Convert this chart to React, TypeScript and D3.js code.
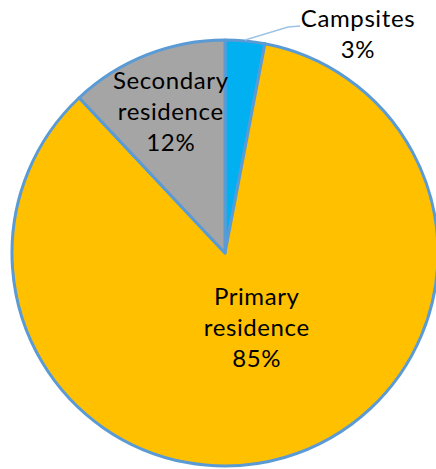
import React from "react";
import * as d3 from "d3";

const categories = ["Campsites", "Primary residence", "Secondary residence"];
const values = [3, 85, 12];
const percentLabels = ["3%", "85%", "12%"];
const colors = ["#00B0F0", "#FFC000", "#A5A5A5"];

const W = 436;
const H = 469;
const cx = 225;
const cy = 253;
const R = 213;
const FONT = "Lato, 'Open Sans', sans-serif";
const LINE = 31;

export default function App() {
  const pie = d3.pie<number>().sort(null).value((d) => d)(values);
  const arc = d3.arc<d3.PieArcDatum<number>>().innerRadius(0).outerRadius(R);

  const labelFor = (i: number, rLabel: number, dx = 0, dy = 0) => {
    const a = d3.arc<d3.PieArcDatum<number>>().innerRadius(rLabel).outerRadius(rLabel);
    const [x, y] = a.centroid(pie[i]);
    return [x + dx, y + dy];
  };

  // Campsites leader line
  const outerArc = d3.arc<d3.PieArcDatum<number>>().innerRadius(R).outerRadius(R);
  const [lx0, ly0] = outerArc.centroid(pie[0]);
  const leader = [
    [lx0, ly0 - 1],
    [lx0 + 43, ly0 - 14],
    [lx0 + 55, ly0 - 15],
  ];

  const [px, py] = labelFor(1, 85, 8, -7);
  const [sx, sy] = labelFor(2, 150, 1, -2);

  const multi = (lines: string[], x: number, yCenter: number) => {
    const y0 = yCenter - ((lines.length - 1) * LINE) / 2;
    return lines.map((t, k) => (
      <text
        key={k}
        x={x}
        y={y0 + k * LINE}
        dy="0.35em"
        textAnchor="middle"
        fontFamily={FONT}
        fontSize={24}
        letterSpacing={0.6}
        fill="#000"
      >
        {t}
      </text>
    ));
  };

  return (
    <svg
      width={W}
      height={H}
      style={{ position: "absolute", left: 0, top: 0, background: "#fff" }}
    >
      <g transform={`translate(${cx},${cy})`}>
        {pie.map((p, i) => (
          <path
            key={categories[i]}
            d={arc(p) || ""}
            fill={colors[i]}
            stroke="#5B9BD5"
            strokeWidth={3}
            strokeLinejoin="round"
          />
        ))}
        <polyline
          points={leader.map((p) => p.join(",")).join(" ")}
          fill="none"
          stroke="#9DC3E6"
          strokeWidth={1.5}
        />
        {multi(["Primary", "residence", percentLabels[1]], px, py)}
        {multi(["Secondary", "residence", percentLabels[2]], sx, sy)}
      </g>
      {multi([categories[0], percentLabels[0]], 358, 34)}
    </svg>
  );
}
